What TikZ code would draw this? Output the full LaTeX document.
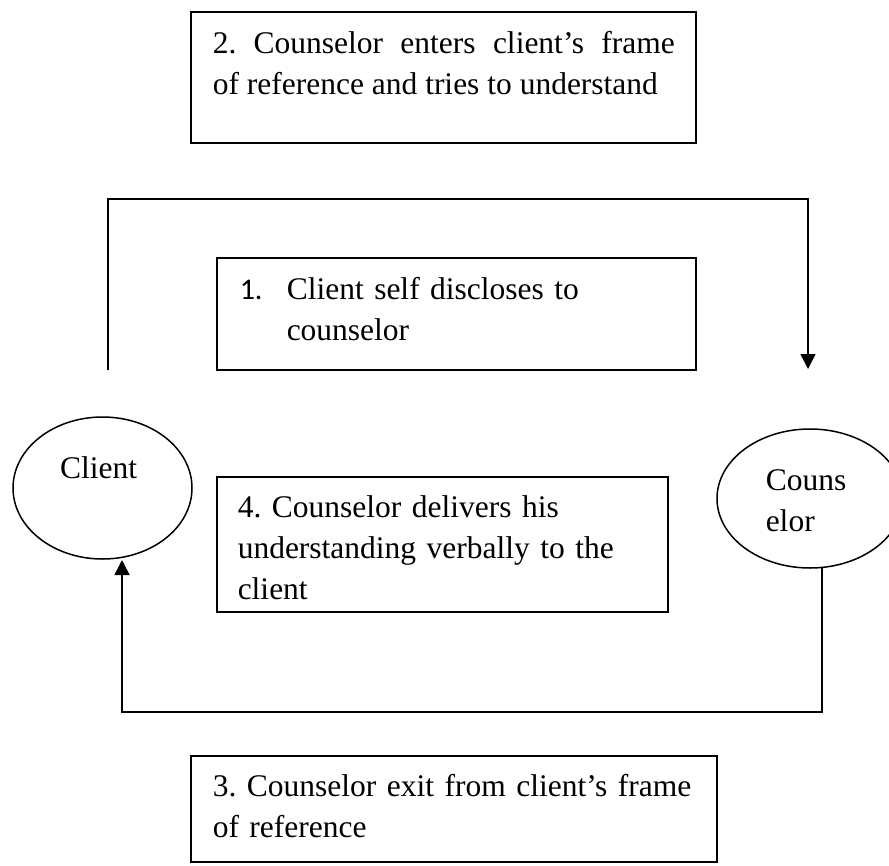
\documentclass[tikz,border=0pt]{standalone}
\usepackage{fontspec}
\setmainfont{Liberation Serif}
\newfontfamily\numfont{Carlito}
\usetikzlibrary{arrows.meta,shapes.geometric}
\frenchspacing
\begin{document}
\begin{tikzpicture}[x=1pt,y=-1pt,
  line width=1.5pt,
  boxshape/.style={draw, rectangle, inner sep=0pt, outer sep=0pt, anchor=north west},
  ovalshape/.style={draw, ellipse, inner sep=0pt, outer sep=0pt},
  txt/.style={inner sep=0pt, anchor=base west, font=\fontsize{31.5}{41}\selectfont\frenchspacing},
  numtxt/.style={inner sep=0pt, anchor=base west, font=\fontsize{30}{41}\numfont},
  conn/.style={line width=1.5pt},
  tip/.style={-{Triangle[length=15pt,width=15pt]}}]
\useasboundingbox (0,0) rectangle (889,865);
\clip (0,0) rectangle (889,865);

% boxes
\node[boxshape, minimum width=505pt, minimum height=131pt] (b2) at (191,12) {};
\node[boxshape, minimum width=479pt, minimum height=112pt] (b1) at (217,258) {};
\node[boxshape, minimum width=451pt, minimum height=135pt] (b4) at (217,477) {};
\node[boxshape, minimum width=526pt, minimum height=106pt] (b3) at (191,756) {};

% ellipses
\node[ovalshape, minimum width=179pt, minimum height=142pt] (cl) at (102.5,488) {};
\node[ovalshape, minimum width=186pt, minimum height=139pt] (co) at (810,498.5) {};

% texts
\node[txt, text width=462pt, align=justify] (t2) at (212,53)
  {2. Counselor enters client’s frame\linebreak of reference and tries to understand};
\node[numtxt] (n1) at (239,299) {1.};
\node[txt, text width=400pt, align=left] (t1) at (286,299)
  {Client self discloses to\\counselor};
\node[txt, text width=430pt, align=left] (t4) at (237,517)
  {4. Counselor delivers his\\understanding verbally to the\\client};
\node[txt, text width=500pt, align=left] (t3) at (212,796)
  {3. Counselor exit from client’s frame\\of reference};
\node[txt, anchor=base] (tcl) at (98.5,478) {Client};
\node[txt, text width=120pt, align=left] (tco) at (765,490) {Couns\\elor};

% connectors
\coordinate (tl) at (108,370);
\coordinate (tc) at (108,199);
\coordinate (tr) at (808,369);
\draw[conn, tip] (tl) -- (tc) -| (tr);
\draw[conn, tip] ([xshift=12pt]co.south) -- ++(0,144) -| ([xshift=19.5pt,yshift=-1pt]cl.south);
\end{tikzpicture}
\end{document}
